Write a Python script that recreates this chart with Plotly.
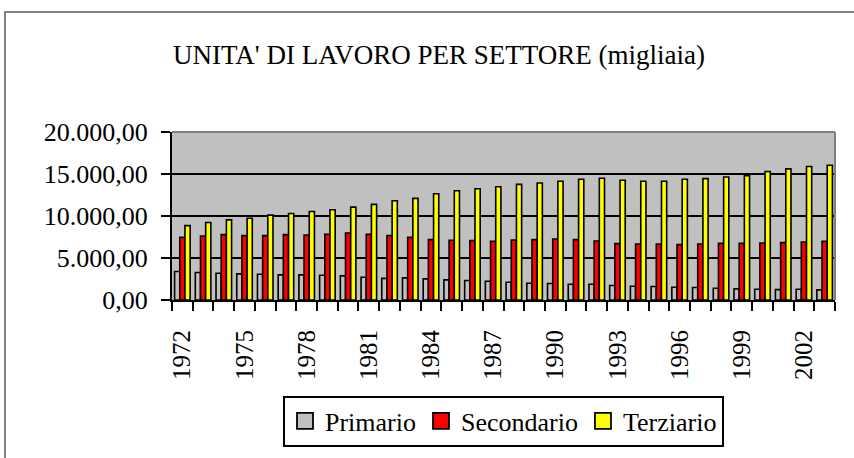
import plotly.graph_objects as go

years = [str(y) for y in range(1972, 2004)]
primario = [3390, 3270, 3190, 3110, 3070, 2990, 2990, 2950, 2870, 2710, 2570,
            2630, 2510, 2400, 2320, 2240, 2120, 2000, 1960, 1880, 1880,
            1720, 1640, 1600, 1520, 1480, 1400, 1320, 1280, 1240, 1280, 1200]
secondario = [7460, 7620, 7780, 7660, 7660, 7780, 7740, 7820, 7980, 7820, 7680,
              7460, 7190, 7110, 7070, 6990, 7150, 7190, 7270, 7190, 7030,
              6710, 6670, 6670, 6590, 6670, 6750, 6750, 6790, 6830, 6910, 6990]
terziario = [8860, 9220, 9540, 9740, 10100, 10300, 10540, 10740, 11060, 11380,
             11820, 12100, 12650, 13010, 13250, 13490, 13770, 13930, 14130, 14370, 14490,
             14250, 14130, 14130, 14370, 14450, 14650, 14810, 15290, 15610, 15890, 16050]
tick_labels = [y if (int(y) - 1972) % 3 == 0 else "" for y in years]

series = [("Primario", primario, "#C0C0C0"),
          ("Secondario", secondario, "#FF0000"),
          ("Terziario", terziario, "#FFFF00")]

FONT = "'Liberation Serif', 'Times New Roman', Times, serif"
W, H = 854, 458
L, R, T, B = 172, 19, 132, 158
pw, ph = W - L - R, H - T - B

def px(x):
    return (x - L) / pw

def py(y):
    return (H - B - y) / ph

fig = go.Figure()
for name, vals, col in series:
    fig.add_trace(go.Bar(x=years, y=vals, name=name, marker_color=col,
                         marker_line=dict(color="black", width=1.6),
                         showlegend=False))
for name, vals, col in series:
    fig.add_trace(go.Scatter(x=[None], y=[None], mode="markers", name=name,
                             marker=dict(symbol="square", size=16, color=col,
                                         line=dict(color="black", width=1.8))))

fig.update_layout(
    width=W, height=H,
    margin=dict(l=L, r=R, t=T, b=B, autoexpand=False),
    paper_bgcolor="white", plot_bgcolor="#C0C0C0",
    barmode="group", bargap=0.25, bargroupgap=0,
    separators=",.",
    font=dict(family=FONT, color="black", size=26),
    title=dict(text="UNITA' DI LAVORO PER SETTORE (migliaia)",
               font=dict(family=FONT, size=27, color="black"),
               x=439 / W, xref="container", xanchor="center",
               y=1 - 55 / H, yref="container", yanchor="middle"),
    legend=dict(orientation="h", x=0.5, xanchor="center", y=py(421), yanchor="middle",
                bordercolor="black", borderwidth=2, bgcolor="white",
                font=dict(family=FONT, size=26, color="black"),
                itemsizing="trace", itemwidth=30),
    xaxis=dict(type="category", tickmode="array", tickvals=years, ticktext=tick_labels,
               tickson="boundaries", ticks="outside", ticklen=9, tickwidth=2,
               tickcolor="black", tickangle=-90, showline=True, linecolor="black",
               linewidth=2, showgrid=False, automargin=False, ticklabelstandoff=18,
               tickfont=dict(family=FONT, size=25, color="black")),
    yaxis=dict(range=[0, 20000], dtick=5000, tickformat=",.2f", ticks="outside",
               ticklen=9, tickwidth=2, tickcolor="black", showline=True,
               linecolor="black", linewidth=2, showgrid=True, gridcolor="black",
               gridwidth=1.7, zeroline=False, automargin=False, ticklabelstandoff=8,
               tickfont=dict(family=FONT, size=26, color="black")),
    shapes=[
        dict(type="line", xref="paper", yref="paper", x0=0, x1=1, y0=1, y1=1,
             line=dict(color="#808080", width=2), layer="above"),
        dict(type="line", xref="paper", yref="paper", x0=1, x1=1, y0=0, y1=1,
             line=dict(color="#808080", width=2), layer="above"),
        dict(type="rect", xref="paper", yref="paper", x0=px(5), x1=px(920),
             y0=py(520), y1=py(12), line=dict(color="#808080", width=2),
             fillcolor="rgba(0,0,0,0)", layer="above"),
    ],
)

fig.write_html("out.html",
               config={"displayModeBar": False},
               post_script="document.body.style.margin='0';document.body.style.overflow='hidden';")
